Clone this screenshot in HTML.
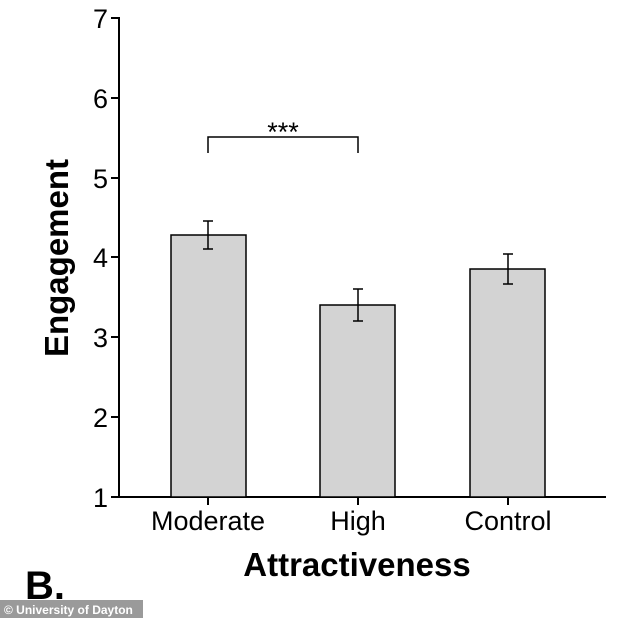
<!DOCTYPE html>
<html><head><style>body{margin:0;background:#fff}svg{display:block}</style></head><body>
<svg width="634" height="618" xmlns="http://www.w3.org/2000/svg" font-family="Liberation Sans, Arial, sans-serif">
<g stroke="#000" stroke-width="2" fill="none">
<line x1="119" y1="17" x2="119" y2="498"/>
<line x1="111" y1="497" x2="606" y2="497"/>
<line x1="111" y1="18" x2="119" y2="18"/>
<line x1="111" y1="98" x2="119" y2="98"/>
<line x1="111" y1="178" x2="119" y2="178"/>
<line x1="111" y1="257" x2="119" y2="257"/>
<line x1="111" y1="337" x2="119" y2="337"/>
<line x1="111" y1="417" x2="119" y2="417"/>
<line x1="208" y1="497" x2="208" y2="505"/>
<line x1="358" y1="497" x2="358" y2="505"/>
<line x1="508" y1="497" x2="508" y2="505"/>
</g>
<g fill="#d3d3d3" stroke="#000" stroke-width="1.5">
<rect x="171" y="235" width="75" height="262"/>
<rect x="320" y="305" width="75" height="192"/>
<rect x="470" y="269" width="75" height="228"/>
</g>
<g stroke="#000" stroke-width="1.5" fill="none">
<path d="M208 221V249M203 221H213M203 249H213"/>
<path d="M358 289V321M353 289H363M353 321H363"/>
<path d="M508 254V284M503 254H513M503 284H513"/>
<path d="M208 153V137H358V153"/>
</g>
<text x="283" y="141" font-size="27" text-anchor="middle">***</text>
<g font-size="27" text-anchor="end">
<text x="108" y="28">7</text><text x="108" y="108">6</text><text x="108" y="188">5</text>
<text x="108" y="267">4</text><text x="108" y="347">3</text><text x="108" y="427">2</text><text x="108" y="507">1</text>
</g>
<g font-size="27" text-anchor="middle">
<text x="208" y="530">Moderate</text><text x="358" y="530">High</text><text x="508" y="530">Control</text>
</g>
<text x="357" y="576" font-size="33" font-weight="bold" text-anchor="middle">Attractiveness</text>
<text transform="translate(68,258) rotate(-90)" font-size="33" font-weight="bold" text-anchor="middle">Engagement</text>
<text x="25" y="599" font-size="40" font-weight="bold">B.</text>
<rect x="0" y="600" width="143" height="18" fill="#9a9a9a"/>
<text x="4" y="614" font-size="12" font-weight="bold" fill="#fff">© University of Dayton</text>
</svg>
</body></html>
